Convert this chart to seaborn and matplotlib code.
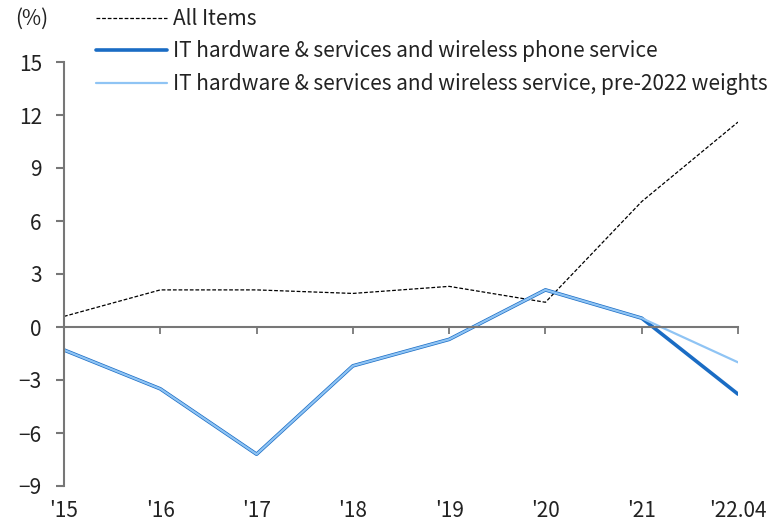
import matplotlib
matplotlib.use("Agg")
import matplotlib.pyplot as plt
import seaborn as sns
import pandas as pd

years = ["'15", "'16", "'17", "'18", "'19", "'20", "'21", "'22.04"]
all_items = [0.6, 2.1, 2.1, 1.9, 2.3, 1.4, 7.1, 11.6]
it_new = [-1.3, -3.5, -7.2, -2.2, -0.7, 2.1, 0.5, -3.8]
it_old = [-1.3, -3.5, -7.2, -2.2, -0.7, 2.1, 0.5, -2.0]

labels = ["All Items",
          "IT hardware & services and wireless phone service",
          "IT hardware & services and wireless service, pre-2022 weights"]

df = pd.DataFrame({"x": range(len(years)), labels[0]: all_items,
                   labels[1]: it_new, labels[2]: it_old})

sns.set_style("ticks")
plt.rcParams["font.family"] = ["Noto Sans CJK KR", "DejaVu Sans"]

fig = plt.figure(figsize=(7.79, 5.21), dpi=100)
ax = fig.add_axes([64 / 779, 1 - 486 / 521, (738 - 64) / 779, (486 - 62) / 521])

sns.lineplot(data=df, x="x", y=labels[0], ax=ax, color="black", lw=0.9,
             linestyle=(0, (3, 1.5)), label=labels[0])
sns.lineplot(data=df, x="x", y=labels[1], ax=ax, color="#1a6cc4", lw=2.6,
             label=labels[1])
sns.lineplot(data=df, x="x", y=labels[2], ax=ax, color="#8fc4f4", lw=1.6,
             label=labels[2])

ax.set_xlim(0, len(years) - 1)
ax.set_ylim(-9, 15)
ax.set_yticks(range(-9, 16, 3))
ax.set_xlabel("")
ax.set_ylabel("")

grey = "#777777"
txt = "#222222"
for s in ["top", "right"]:
    ax.spines[s].set_visible(False)
ax.spines["left"].set_color(grey)
ax.spines["left"].set_linewidth(1.5)
ax.spines["bottom"].set_position(("data", 0))
ax.spines["bottom"].set_color(grey)
ax.spines["bottom"].set_linewidth(1.5)
ax.set_xticks(range(len(years)))
ax.yaxis.set_ticks_position("left")
ax.tick_params(axis="x", bottom=True, direction="out", length=5, color=grey,
               width=1.3, labelbottom=False)
ax.tick_params(axis="y", left=True, direction="out", length=6, color=grey,
               width=1.5, labelsize=15, pad=10, labelcolor=txt)

sec = ax.secondary_xaxis("bottom")
sec.set_xticks(range(len(years)), labels=years)
sec.spines["bottom"].set_visible(False)
sec.tick_params(length=0, labelsize=15, pad=10, labelcolor=txt)

fig.text(15 / 779, 1 - 19 / 521, "(%)", fontsize=15, color=txt,
         va="center", ha="left")

leg = ax.legend(loc="upper left", bbox_to_anchor=(96 / 779, 1 - 8 / 521),
                bbox_transform=fig.transFigure, frameon=False, fontsize=15,
                handlelength=3.4, handletextpad=0.3, labelspacing=0.5,
                borderaxespad=0, borderpad=0)
for t in leg.get_texts():
    t.set_color(txt)

fig.savefig("out.png", dpi=100)
